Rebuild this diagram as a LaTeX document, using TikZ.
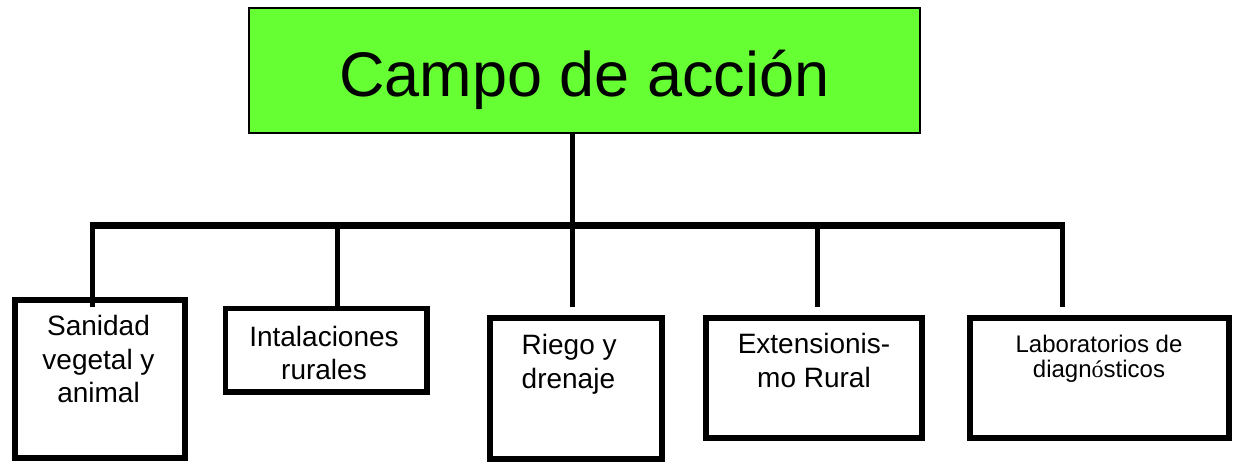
\documentclass[tikz,border=0pt]{standalone}
\usepackage{fontspec}
\setmainfont{Liberation Sans}
\newfontfamily\serifacc{Liberation Serif}
\definecolor{titlegreen}{RGB}{102,255,51}
\begin{document}
\begin{tikzpicture}[x=1pt,y=-1pt,
  topbox/.style={draw=black, line width=1.5pt, fill=titlegreen, inner sep=0pt},
  leafbox/.style={draw=black, line width=5.5pt, inner sep=0pt},
  leaftext/.style={inner sep=0pt, anchor=north, align=center, font=\fontsize{28}{33.5}\selectfont},
  barline/.style={line width=7pt},
  dropline/.style={line width=5pt},
  stemline/.style={line width=4.5pt}]
\useasboundingbox (0,0) rectangle (1233,462);
% top node
\node[topbox, minimum width=671pt, minimum height=125pt] (top) at (584.5,70.5) {};
\node[inner sep=0pt, anchor=base, font=\fontsize{63}{70}\selectfont] (title) at (584.5,97) {Campo de acción};
% leaf boxes
\node[leafbox, minimum width=170pt, minimum height=158pt] (b1) at (100,379) {};
\node[leafbox, minimum width=201.5pt, minimum height=83.5pt] (b2) at (326.25,350.25) {};
\node[leafbox, minimum width=172pt, minimum height=141pt] (b3) at (576,388.5) {};
\node[leafbox, minimum width=216pt, minimum height=120pt] (b4) at (814,378) {};
\node[leafbox, minimum width=259pt, minimum height=120pt] (b5) at (1099.5,378) {};
% texts
\node[leaftext] (t1) at (98.5,315.5) {Sanidad\\vegetal y\\animal};
\node[leaftext] (t2) at (324,326) {Intalaciones\\rurales};
\node[leaftext, align=left, anchor=north west] (t3) at (521.5,334.5) {Riego y\\drenaje};
\node[leaftext] (t4) at (814,333.5) {Extensionis-\\mo Rural};
\node[leaftext, font=\fontsize{24}{25}\selectfont] (t5) at (1099,334.5) {Laboratorios de\\diagn{\serifacc ó}sticos};
% connector ends
\coordinate (j) at (572.5,226);
\coordinate (e1) at (92.5,307);
\coordinate (e2) at (337,307);
\coordinate (e3) at (572.5,307);
\coordinate (e4) at (817.5,307);
\coordinate (e5) at (1062,307);
% connectors
\draw[stemline] (top.south -| j) -- (j);
\draw[barline] ([xshift=-2.5pt]e1 |- j) -- ([xshift=2.5pt]e5 |- j);
\foreach \e in {e1,e2,e3,e4,e5}
  \draw[dropline] ([yshift=-3.5pt]\e |- j) -- (\e);
\end{tikzpicture}
\end{document}
